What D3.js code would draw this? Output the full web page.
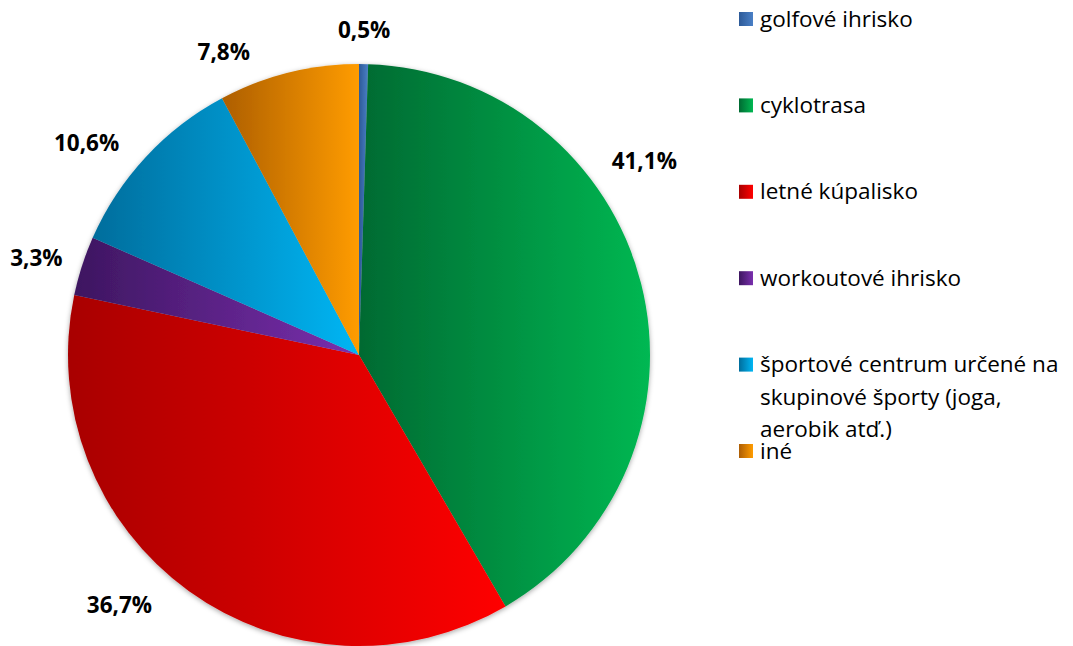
<!DOCTYPE html>
<html>
<head>
<meta charset="utf-8">
<script src="https://cdn.jsdelivr.net/npm/d3@7"></script>
<style>
  body { margin: 0; background: #fff; }
  svg { display: block; }
</style>
</head>
<body>
<div id="chart"></div>
<script>
// categories and values (percent)
var categories = ["golfové ihrisko", "cyklotrasa", "letné kúpalisko", "workoutové ihrisko",
  "športové centrum určené na skupinové športy (joga, aerobik atď.)", "iné"];
var values = [0.5, 41.1, 36.7, 3.3, 10.6, 7.8];
var valueLabels = ["0,5%", "41,1%", "36,7%", "3,3%", "10,6%", "7,8%"];
// legend text, wrapped like the original
var legendLines = [["golfové ihrisko"], ["cyklotrasa"], ["letné kúpalisko"], ["workoutové ihrisko"],
  ["športové centrum určené na", "skupinové športy (joga,", "aerobik atď.)"], ["iné"]];
// gradient stops: dark (left) -> light (right)
var darkColors = ["#2d5a98", "#006a32", "#a80000", "#3d1660", "#006d9c", "#ad5e05"];
var lightColors = ["#4a80c6", "#00b852", "#ff0000", "#7a2fae", "#00b6f4", "#ff9c00"];

var width = 1073, height = 646;
var cx = 359, cy = 355, radius = 291;

// label angle nudges (degrees), Excel "best fit" puts some labels off the mid angle
var labelNudge = [0, -20, 8, -1, -5, -10];
var labelRadius = [325, 345, 346, 337, 345, 332];

var svg = d3.select("#chart").append("svg")
  .attr("width", width)
  .attr("height", height);

var defs = svg.append("defs");
categories.forEach(function(c, i){
  var g = defs.append("linearGradient")
    .attr("id", "grad" + i)
    .attr("x1", 0).attr("y1", 0).attr("x2", 1).attr("y2", 0);
  g.append("stop").attr("offset", "0%").attr("stop-color", darkColors[i]);
  g.append("stop").attr("offset", "100%").attr("stop-color", lightColors[i]);
});
var shadow = defs.append("filter").attr("id", "shadow")
  .attr("x", "-10%").attr("y", "-10%").attr("width", "120%").attr("height", "120%");
shadow.append("feDropShadow")
  .attr("dx", 0).attr("dy", 1.5).attr("stdDeviation", 2.5)
  .attr("flood-color", "#000").attr("flood-opacity", 0.35);

var pie = d3.pie().sort(null).value(function(d){ return d; });
var arcs = pie(values);
var arc = d3.arc().innerRadius(0).outerRadius(radius);

var g = svg.append("g").attr("transform", "translate(" + cx + "," + cy + ")");

g.append("g").attr("filter", "url(#shadow)")
  .selectAll("path")
  .data(arcs)
  .enter().append("path")
    .attr("d", arc)
    .attr("fill", function(d, i){ return "url(#grad" + i + ")"; });

// value labels outside the pie
g.selectAll("text.lbl")
  .data(arcs)
  .enter().append("text")
    .attr("class", "lbl")
    .attr("transform", function(d, i){
      var a = (d.startAngle + d.endAngle) / 2 + labelNudge[i] * Math.PI / 180;
      var r = labelRadius[i];
      return "translate(" + (r * Math.sin(a)) + "," + (-r * Math.cos(a)) + ")";
    })
    .attr("text-anchor", "middle")
    .attr("dy", "0.36em")
    .style("font-family", "'Open Sans', sans-serif")
    .style("font-weight", "bold")
    .style("font-size", "22.5px")
    .style("fill", "#000")
    .text(function(d, i){ return valueLabels[i]; });

// legend
var legendY = d3.scalePoint().domain(d3.range(categories.length)).range([19, 451]);
var legend = svg.append("g");
var item = legend.selectAll("g")
  .data(categories)
  .enter().append("g")
    .attr("transform", function(d, i){ return "translate(739," + legendY(i) + ")"; });

item.append("rect")
  .attr("x", 0).attr("y", -7)
  .attr("width", 14).attr("height", 14)
  .attr("fill", function(d, i){ return "url(#grad" + i + ")"; });

item.append("text")
  .attr("x", 21)
  .attr("y", 7.5)
  .style("font-family", "'Open Sans', sans-serif")
  .style("font-size", "22.5px")
  .style("fill", "#000")
  .selectAll("tspan")
  .data(function(d, i){ return legendLines[i]; })
  .enter().append("tspan")
    .attr("x", 21)
    .attr("dy", function(d, j){ return j === 0 ? 0 : 32.5; })
    .text(function(d){ return d; });
</script>
</body>
</html>
